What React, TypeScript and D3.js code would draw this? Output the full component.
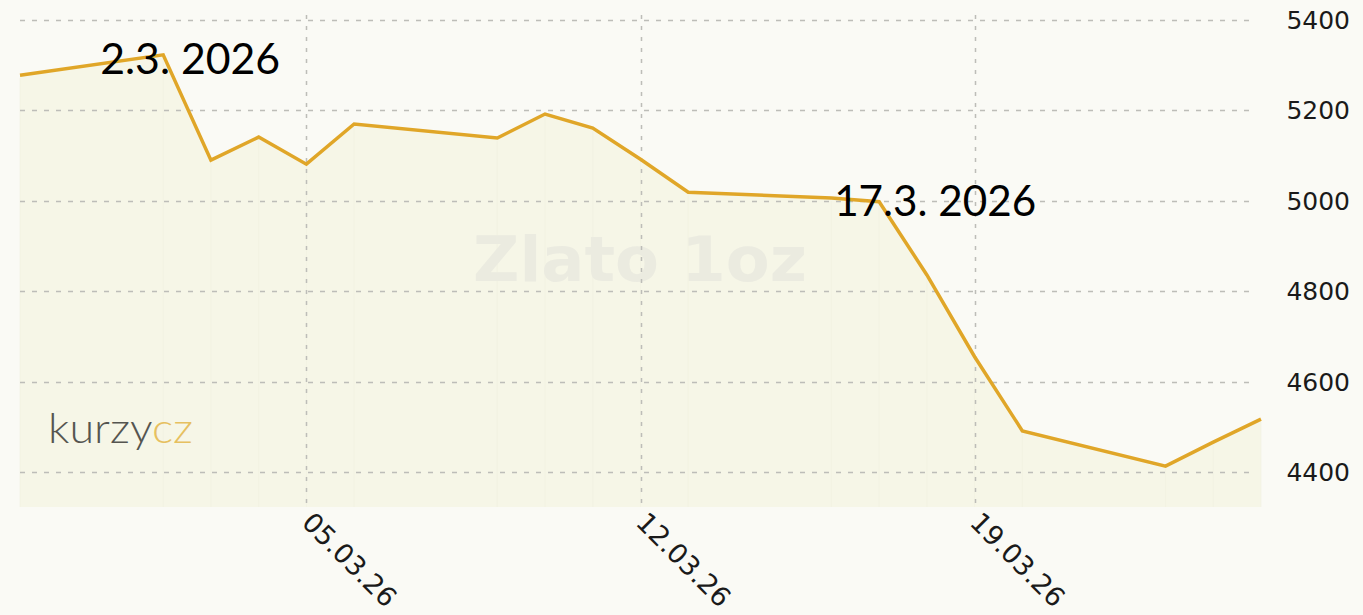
import React from "react";
import * as d3 from "d3";

const dates = [
  "2026-02-27", "2026-03-02", "2026-03-03", "2026-03-04", "2026-03-05", "2026-03-06",
  "2026-03-09", "2026-03-10", "2026-03-11", "2026-03-12", "2026-03-13",
  "2026-03-16", "2026-03-17", "2026-03-18", "2026-03-19", "2026-03-20",
  "2026-03-23", "2026-03-24", "2026-03-25",
];
const prices = [
  5278, 5323, 5090, 5141, 5081, 5170,
  5139, 5192, 5161, 5092, 5019,
  5006, 4998, 4836, 4655, 4491,
  4413, 4466, 4517,
];
const yTicks = [4400, 4600, 4800, 5000, 5200, 5400];
const xTickDates = ["2026-03-05", "2026-03-12", "2026-03-19"];
const xTickLabels = ["05.03.26", "12.03.26", "19.03.26"];
const annotationDates = ["2026-03-02", "2026-03-17"];
const annotationLabels = ["2.3. 2026", "17.3. 2026"];
const watermark = "Zlato 1oz";

const W = 1363;
const H = 615;
const parse = d3.utcParse("%Y-%m-%d");

export default function App() {
  const data = dates.map((d, i) => ({ date: parse(d) as Date, value: prices[i] }));
  const x = d3
    .scaleUtc()
    .domain([data[0].date, data[data.length - 1].date])
    .range([20, 1261]);
  const y = d3.scaleLinear().domain([4322.6, 5400]).range([507, 20]);

  const line = d3
    .line<{ date: Date; value: number }>()
    .x((d) => x(d.date))
    .y((d) => y(d.value));
  const area = d3
    .area<{ date: Date; value: number }>()
    .x((d) => x(d.date))
    .y0(y.range()[0])
    .y1((d) => y(d.value));

  const annOffsets = [
    { dx: -63, dy: 19, size: 43, len: 180 },
    { dx: -45, dy: 14, size: 43, len: 202 },
  ];

  return (
    <div style={{ position: "fixed", left: 0, top: 0, width: W, height: H, background: "#fafaf5" }}>
      <svg width={W} height={H} style={{ display: "block" }}>
        <rect x={0} y={0} width={W} height={H} fill="#fafaf5" />
        <path d={area(data) || ""} fill="#f6f6e7" />
        {data.map((d, i) => (
          <line
            key={"s" + i}
            x1={x(d.date)}
            x2={x(d.date)}
            y1={y(d.value) + 3}
            y2={507}
            stroke="#f1f1e0"
            strokeWidth={1}
            opacity={0.5}
          />
        ))}
        <text
          x={640}
          y={281}
          textAnchor="middle"
          fontFamily="DejaVu Sans"
          fontWeight="bold"
          fontSize={63}
          textLength={334}
          lengthAdjust="spacingAndGlyphs"
          fill="#ebebe0"
        >
          {watermark}
        </text>
        {yTicks.map((t) => (
          <line
            key={"h" + t}
            x1={20}
            x2={1254}
            y1={Math.round(y(t)) + 0.5}
            y2={Math.round(y(t)) + 0.5}
            stroke="#bdbdb8"
            strokeWidth={1.3}
            strokeDasharray="5,7"
          />
        ))}
        {xTickDates.map((t) => {
          const xx = Math.round(x(parse(t) as Date)) + 0.5;
          return (
            <line
              key={"v" + t}
              x1={xx}
              x2={xx}
              y1={15}
              y2={508}
              stroke="#bdbdb8"
              strokeWidth={1.5}
              strokeDasharray="4,7"
            />
          );
        })}
        <path d={line(data) || ""} fill="none" stroke="#e0a628" strokeWidth={3.5} strokeLinejoin="miter" />
        {yTicks.map((t) => (
          <text
            key={"yl" + t}
            x={1350}
            y={y(t) + 9}
            textAnchor="end"
            fontFamily="DejaVu Sans"
            fontSize={25}
            fill="#1a1a1a"
          >
            {t}
          </text>
        ))}
        {xTickDates.map((t, i) => {
          const xx = x(parse(t) as Date);
          return (
            <text
              key={"xl" + t}
              transform={`translate(${xx - 6},${524}) rotate(45)`}
              textAnchor="start"
              fontFamily="DejaVu Sans"
              fontSize={27}
              fill="#1a1a1a"
            >
              {xTickLabels[i]}
            </text>
          );
        })}
        {annotationDates.map((t, i) => {
          const dt = parse(t) as Date;
          const v = prices[dates.indexOf(t)];
          return (
            <text
              key={"a" + t}
              x={x(dt) + annOffsets[i].dx}
              y={y(v) + annOffsets[i].dy}
              fontFamily="Lato, 'Open Sans', sans-serif"
              fontSize={annOffsets[i].size}
              textLength={annOffsets[i].len}
              lengthAdjust="spacingAndGlyphs"
              fill="#000"
            >
              {annotationLabels[i]}
            </text>
          );
        })}
        <text x={48} y={443} fontFamily="Lato, 'Open Sans', sans-serif" fontWeight={300} fontSize={41} textLength={145} lengthAdjust="spacingAndGlyphs">
          <tspan fill="#555550">kurzy</tspan>
          <tspan fill="#e6c060">cz</tspan>
        </text>
      </svg>
    </div>
  );
}
